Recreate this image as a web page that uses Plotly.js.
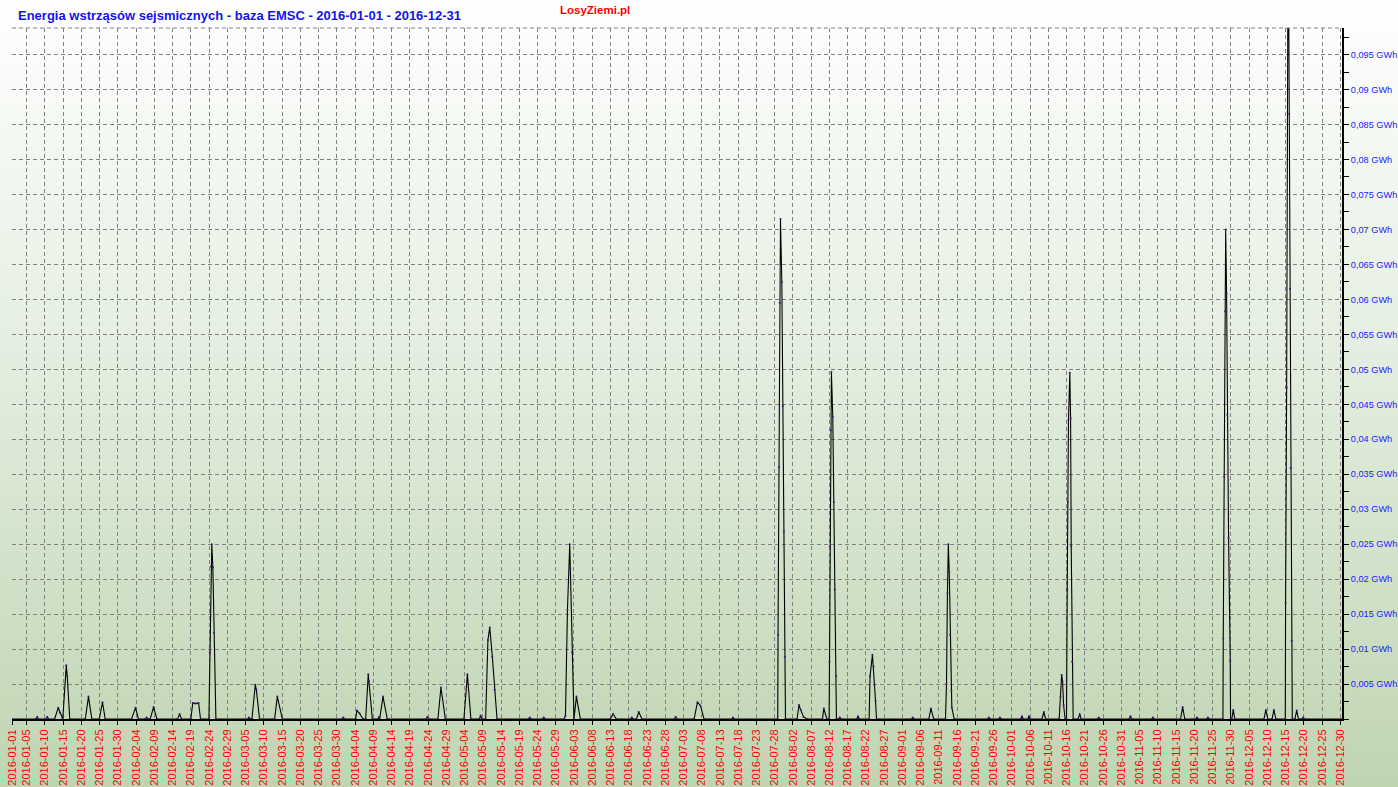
<!DOCTYPE html>
<html>
<head>
<meta charset="utf-8">
<script src="https://cdn.plot.ly/plotly-3.0.1.min.js"></script>
<style>
  html, body { margin: 0; padding: 0; }
  body { width: 1398px; height: 787px; overflow: hidden;
         background: linear-gradient(to bottom, #ffffff 0%, #e4eee0 45%, #bfd5b2 100%); }
  #chart { width: 1398px; height: 787px; }
</style>
</head>
<body>
<div id="chart"></div>
<script>
// Seismic energy (GWh), EMSC, 2016
const times = [
  '2016-01-01 00:00',
  '2016-01-07 14:00','2016-01-07 22:00','2016-01-08 06:00',
  '2016-01-10 08:00','2016-01-10 16:00','2016-01-11 00:00',
  '2016-01-12 16:00','2016-01-13 16:00','2016-01-14 03:00','2016-01-14 18:00',
  '2016-01-14 22:00','2016-01-15 21:00','2016-01-16 03:00','2016-01-16 20:00',
  '2016-01-21 02:00','2016-01-21 23:00','2016-01-22 21:00',
  '2016-01-24 22:00','2016-01-25 19:00','2016-01-26 13:00',
  '2016-02-02 18:00','2016-02-03 20:00','2016-02-04 16:00',
  '2016-02-06 13:00','2016-02-06 21:00','2016-02-07 05:00',
  '2016-02-07 21:00','2016-02-08 19:00','2016-02-09 17:00',
  '2016-02-15 09:00','2016-02-15 22:00','2016-02-16 11:00',
  '2016-02-19 00:00','2016-02-19 13:00','2016-02-20 07:00','2016-02-21 03:00','2016-02-21 16:00',
  '2016-02-23 23:00','2016-02-24 05:00','2016-02-24 12:00','2016-02-24 18:00','2016-02-25 01:00','2016-02-25 08:00','2016-02-25 21:00',
  '2016-03-05 14:00','2016-03-05 22:00','2016-03-06 06:00',
  '2016-03-06 18:00','2016-03-07 16:00','2016-03-07 23:00','2016-03-08 20:00',
  '2016-03-12 23:00','2016-03-13 17:00','2016-03-15 02:00',
  '2016-03-31 11:00','2016-03-31 19:00','2016-04-01 03:00',
  '2016-04-04 04:00','2016-04-04 12:00','2016-04-05 06:00','2016-04-06 04:00',
  '2016-04-06 22:00','2016-04-07 15:00','2016-04-07 19:00','2016-04-08 18:00',
  '2016-04-10 08:00','2016-04-10 13:00','2016-04-10 18:00','2016-04-11 16:00','2016-04-12 20:00',
  '2016-04-23 12:00','2016-04-23 20:00','2016-04-24 04:00',
  '2016-04-26 17:00','2016-04-27 13:00','2016-04-28 18:00',
  '2016-05-03 20:00','2016-05-04 19:00','2016-05-05 18:00',
  '2016-05-08 02:00','2016-05-08 10:00','2016-05-08 18:00',
  '2016-05-09 19:00','2016-05-10 10:00','2016-05-10 22:00','2016-05-11 15:00','2016-05-12 06:00','2016-05-12 22:00',
  '2016-05-21 13:00','2016-05-21 21:00','2016-05-22 05:00',
  '2016-05-25 09:00','2016-05-25 17:00','2016-05-26 01:00',
  '2016-05-31 08:00','2016-05-31 16:00','2016-06-01 05:00','2016-06-01 20:00','2016-06-02 00:00','2016-06-02 11:00','2016-06-03 00:00','2016-06-03 16:00','2016-06-04 18:00',
  '2016-06-12 23:00','2016-06-13 17:00','2016-06-14 15:00',
  '2016-06-18 12:00','2016-06-18 20:00','2016-06-19 04:00',
  '2016-06-20 03:00','2016-06-20 18:00','2016-06-21 15:00',
  '2016-06-30 13:00','2016-06-30 21:00','2016-07-01 05:00',
  '2016-07-05 22:00','2016-07-06 20:00','2016-07-07 16:00','2016-07-08 15:00',
  '2016-07-16 06:00','2016-07-16 14:00','2016-07-16 22:00',
  '2016-07-28 20:00','2016-07-28 22:00','2016-07-29 05:00','2016-07-29 09:00','2016-07-29 14:00','2016-07-29 23:00','2016-07-30 05:00','2016-07-30 12:00','2016-07-30 18:00','2016-07-30 23:00',
  '2016-08-03 03:00','2016-08-03 16:00','2016-08-04 03:00','2016-08-04 22:00','2016-08-05 21:00',
  '2016-08-10 02:00','2016-08-10 11:00','2016-08-11 07:00',
  '2016-08-11 22:00','2016-08-12 00:00','2016-08-12 04:00','2016-08-12 09:00','2016-08-12 13:00','2016-08-12 22:00','2016-08-13 05:00','2016-08-13 11:00','2016-08-13 20:00','2016-08-13 22:00',
  '2016-08-14 12:00','2016-08-14 20:00','2016-08-15 04:00',
  '2016-08-19 12:00','2016-08-19 20:00','2016-08-20 04:00',
  '2016-08-22 21:00','2016-08-23 03:00','2016-08-23 19:00','2016-08-24 02:00','2016-08-24 08:00','2016-08-24 15:00','2016-08-24 22:00',
  '2016-09-03 12:00','2016-09-03 20:00','2016-09-04 04:00',
  '2016-09-08 06:00','2016-09-08 19:00','2016-09-09 14:00',
  '2016-09-12 19:00','2016-09-13 02:00','2016-09-13 08:00','2016-09-13 14:00','2016-09-13 20:00','2016-09-14 02:00','2016-09-14 10:00','2016-09-14 13:00','2016-09-15 05:00',
  '2016-09-24 08:00','2016-09-24 16:00','2016-09-25 00:00',
  '2016-09-27 09:00','2016-09-27 17:00','2016-09-28 01:00',
  '2016-10-03 10:00','2016-10-03 18:00','2016-10-04 02:00',
  '2016-10-05 08:00','2016-10-05 16:00','2016-10-06 00:00',
  '2016-10-09 06:00','2016-10-09 18:00','2016-10-10 06:00',
  '2016-10-13 23:00','2016-10-14 08:00','2016-10-14 15:00','2016-10-14 21:00','2016-10-15 04:00','2016-10-15 14:00',
  '2016-10-15 23:00','2016-10-16 04:00','2016-10-16 08:00','2016-10-16 12:00','2016-10-16 21:00','2016-10-17 02:00','2016-10-17 06:00','2016-10-17 12:00','2016-10-17 19:00',
  '2016-10-19 04:00','2016-10-19 14:00','2016-10-20 00:00',
  '2016-10-24 11:00','2016-10-24 19:00','2016-10-25 03:00',
  '2016-11-02 04:00','2016-11-02 12:00','2016-11-02 20:00',
  '2016-11-08 07:00','2016-11-08 15:00','2016-11-08 23:00',
  '2016-11-16 05:00','2016-11-16 19:00','2016-11-17 09:00',
  '2016-11-20 09:00','2016-11-20 17:00','2016-11-21 01:00',
  '2016-11-23 09:00','2016-11-23 17:00','2016-11-24 01:00',
  '2016-11-27 20:00','2016-11-27 22:00','2016-11-28 04:00','2016-11-28 11:00','2016-11-28 14:00','2016-11-28 20:00','2016-11-29 00:00','2016-11-29 09:00','2016-11-29 20:00','2016-11-29 22:00',
  '2016-11-30 06:00','2016-11-30 16:00','2016-12-01 02:00',
  '2016-12-09 02:00','2016-12-09 14:00','2016-12-10 03:00',
  '2016-12-11 07:00','2016-12-11 19:00','2016-12-12 08:00',
  '2016-12-14 22:00','2016-12-15 00:00','2016-12-15 07:00','2016-12-15 17:00','2016-12-16 00:00','2016-12-16 05:00','2016-12-16 09:00','2016-12-16 16:00','2016-12-16 20:00',
  '2016-12-17 13:00','2016-12-18 01:00','2016-12-18 13:00',
  '2016-12-19 12:00','2016-12-19 20:00','2016-12-20 04:00',
  '2016-12-31 00:00'
];
const energy = [
  0,
  0,0.0003,0,
  0,0.0003,0,
  0,0.0016,0.0009,0,
  0,0.0077,0.0062,0,
  0,0.0032,0,
  0,0.0024,0,
  0,0.0016,0,
  0,0.0002,0,
  0,0.0017,0,
  0,0.0007,0,
  0,0.0023,0.0022,0.0023,0,
  0,0.0095,0.0218,0.025,0.0217,0.0123,0,
  0,0.0002,0,
  0,0.0049,0.0042,0,
  0,0.0032,0,
  0,0.0002,0,
  0,0.0012,0.0008,0,
  0,0.0064,0.0054,0,
  0,0.0003,0,0.0032,0,
  0,0.0003,0,
  0,0.0045,0,
  0,0.0064,0,
  0,0.0005,0,
  0,0.0113,0.0131,0.0089,0.0042,0,
  0,0.0002,0,
  0,0.0002,0,
  0,0.0005,0.0156,0.025,0.0215,0.0095,0,0.0032,0,
  0,0.0007,0,
  0,0.0002,0,
  0,0.001,0,
  0,0.0003,0,
  0,0.0024,0.0019,0,
  0,0.0002,0,
  0,0.012,0.036,0.0595,0.0715,0.0625,0.0447,0.0268,0.0089,0,
  0,0.002,0.0013,0.0003,0,
  0,0.0015,0,
  0,0.0082,0.0247,0.0413,0.0496,0.0432,0.031,0.0185,0.0061,0,
  0,0.0002,0,
  0,0.0004,0,
  0,0.0061,0.0092,0.0075,0.0049,0.0026,0,
  0,0.0002,0,
  0,0.0015,0,
  0,0.005,0.018,0.025,0.021,0.012,0.004,0.0016,0,
  0,0.0002,0,
  0,0.0002,0,
  0,0.0004,0,
  0,0.0004,0,
  0,0.001,0,
  0,0.0032,0.0063,0.0054,0.002,0,
  0,0.0185,0.031,0.0428,0.0495,0.043,0.0247,0.0082,0,
  0,0.0007,0,
  0,0.0002,0,
  0,0.0004,0,
  0,0.0002,0,
  0,0.0017,0,
  0,0.0002,0,
  0,0.0002,0,
  0,0.0115,0.0346,0.0583,0.07,0.0608,0.0435,0.0259,0.0083,0,
  0,0.0013,0,
  0,0.0013,0,
  0,0.0013,0,
  0,0.0166,0.0474,0.118,0.0865,0.0615,0.0359,0.0112,0,
  0,0.0012,0,
  0,0.0002,0,
  0
];

const xTickDates = [
  '2016-01-01','2016-01-05','2016-01-10','2016-01-15','2016-01-20','2016-01-25','2016-01-30',
  '2016-02-04','2016-02-09','2016-02-14','2016-02-19','2016-02-24','2016-02-29',
  '2016-03-05','2016-03-10','2016-03-15','2016-03-20','2016-03-25','2016-03-30',
  '2016-04-04','2016-04-09','2016-04-14','2016-04-19','2016-04-24','2016-04-29',
  '2016-05-04','2016-05-09','2016-05-14','2016-05-19','2016-05-24','2016-05-29',
  '2016-06-03','2016-06-08','2016-06-13','2016-06-18','2016-06-23','2016-06-28',
  '2016-07-03','2016-07-08','2016-07-13','2016-07-18','2016-07-23','2016-07-28',
  '2016-08-02','2016-08-07','2016-08-12','2016-08-17','2016-08-22','2016-08-27',
  '2016-09-01','2016-09-06','2016-09-11','2016-09-16','2016-09-21','2016-09-26',
  '2016-10-01','2016-10-06','2016-10-11','2016-10-16','2016-10-21','2016-10-26','2016-10-31',
  '2016-11-05','2016-11-10','2016-11-15','2016-11-20','2016-11-25','2016-11-30',
  '2016-12-05','2016-12-10','2016-12-15','2016-12-20','2016-12-25','2016-12-30'
];
const yTickVals = [0.005,0.01,0.015,0.02,0.025,0.03,0.035,0.04,0.045,0.05,
                   0.055,0.06,0.065,0.07,0.075,0.08,0.085,0.09,0.095];
const yTickLabels = ['0,005 GWh','0,01 GWh','0,015 GWh','0,02 GWh','0,025 GWh','0,03 GWh',
  '0,035 GWh','0,04 GWh','0,045 GWh','0,05 GWh','0,055 GWh','0,06 GWh','0,065 GWh',
  '0,07 GWh','0,075 GWh','0,08 GWh','0,085 GWh','0,09 GWh','0,095 GWh'];

const chartTitle = 'Energia wstrząsów sejsmicznych - baza EMSC - 2016-01-01 - 2016-12-31';
const siteName = 'LosyZiemi.pl';

const sans = '"Liberation Sans", Arial, sans-serif';

const trace = {
  x: times, y: energy, type: 'scatter', mode: 'lines+markers',
  line: { color: '#000000', width: 1.1 },
  marker: { color: '#3c1478', size: 2 },
  hoverinfo: 'x+y'
};

const layout = {
  width: 1398, height: 787,
  margin: { l: 12, r: 56, t: 28, b: 68 },
  paper_bgcolor: 'rgba(0,0,0,0)',
  plot_bgcolor: 'rgba(0,0,0,0)',
  showlegend: false,
  title: {
    text: '<b>' + chartTitle + '</b>',
    font: { family: sans, size: 13, color: '#1414e6' },
    xref: 'container', yref: 'container',
    x: 18 / 1398, xanchor: 'left', y: 1 - 15 / 787, yanchor: 'middle'
  },
  annotations: [{
    text: '<b>' + siteName + '</b>',
    xref: 'paper', yref: 'paper', x: 0.4385, y: 1.0265,
    xanchor: 'center', yanchor: 'middle', showarrow: false,
    font: { family: sans, size: 11.5, color: '#ff0000' }
  }],
  shapes: [{
    type: 'line', xref: 'paper', yref: 'paper', x0: 0, x1: 1, y0: 1, y1: 1,
    line: { color: '#808080', width: 1, dash: '4px,3px' }
  }],
  xaxis: {
    type: 'date',
    range: ['2016-01-01 00:00', '2016-12-30 11:00'],
    tickmode: 'array', tickvals: xTickDates, ticktext: xTickDates,
    tickangle: -90,
    tickfont: { family: sans, size: 11, color: '#ff0000' },
    ticks: 'outside', ticklen: 4, tickcolor: '#000000', tickwidth: 1,
    showgrid: true, gridcolor: '#808080', gridwidth: 1, griddash: '4px,3px',
    showline: true, linecolor: '#000000', linewidth: 2,
    zeroline: false, fixedrange: true
  },
  yaxis: {
    side: 'right',
    range: [0, 0.0988],
    tickmode: 'array', tickvals: yTickVals, ticktext: yTickLabels,
    tickfont: { family: sans, size: 9.2, color: '#2020ff' },
    ticks: 'outside', ticklen: 5, tickcolor: '#000000', tickwidth: 1,
    minor: { dtick: 0.0025, tick0: 0, ticks: 'outside', ticklen: 5, tickcolor: '#000000', showgrid: false },
    showgrid: true, gridcolor: '#808080', gridwidth: 1, griddash: '4px,3px',
    showline: true, linecolor: '#000000', linewidth: 2,
    zeroline: false, fixedrange: true
  }
};

Plotly.newPlot('chart', [trace], layout, { displayModeBar: false, staticPlot: true });
</script>
</body>
</html>
